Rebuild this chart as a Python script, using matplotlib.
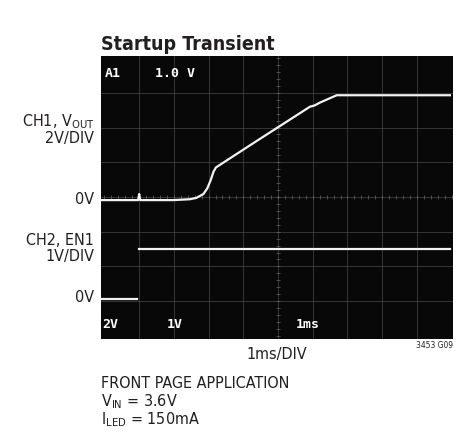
import numpy as np
import matplotlib
matplotlib.use('Agg')
import matplotlib.pyplot as plt

plt.rcParams['font.family'] = ['DejaVu Sans']
plt.rcParams['font.stretch'] = 'condensed'
plt.rcParams['mathtext.default'] = 'regular'

# time in ms (1ms/DIV), CH1 = VOUT in volts (2V/DIV), CH2 = EN1 in volts (1V/DIV)
t_ch1 = [-0.1, 0.97, 1.0, 1.03, 1.98, 2.46, 2.65, 2.85, 2.96, 3.06, 3.14, 3.21,
         4.38, 5.92, 6.05, 6.21, 6.69, 9.95]
v_ch1 = [0.0, 0.0, 0.35, 0.0, 0.0, 0.05, 0.13, 0.35, 0.67, 1.15, 1.63, 1.88,
         3.40, 5.38, 5.45, 5.62, 6.04, 6.04]
t_ch2 = [-0.1, 0.95, np.nan, 1.0, 9.95]
v_ch2 = [0.0, 0.0, np.nan, 1.42, 1.42]

ch1_scale, ch1_zero = 2.0, -0.09
ch2_scale, ch2_zero = 1.0, -2.93

fig = plt.figure(figsize=(4.64, 4.43), dpi=100)
W, H = 464, 443
ax = fig.add_axes([101 / W, 1 - 339 / H, 352 / W, 283 / H])
ax.set_facecolor('#080808')
ax.set_xlim(-0.1, 10.04)
ax.set_ylim(-4.09, 4.06)

# graticule
for gx in range(1, 10):
    ax.axvline(gx, color='#5a5a5a', lw=0.7, alpha=0.55, zorder=1)
for gy in range(-3, 4):
    ax.axhline(gy, color='#5a5a5a', lw=0.7, alpha=0.55, zorder=1)
minor = np.arange(0, 10.01, 0.2)
ax.plot(minor, np.zeros_like(minor), '|', color='#666666', ms=3, mew=0.5, zorder=1)
minor_y = np.arange(-4, 4.01, 0.2)
ax.plot(np.full_like(minor_y, 5.0), minor_y, '_', color='#666666', ms=3, mew=0.5, zorder=1)

ax.plot(t_ch1, ch1_zero + np.array(v_ch1) / ch1_scale, color='#f2f2f2', lw=1.6, zorder=3)
ax.plot(t_ch2, ch2_zero + np.array(v_ch2) / ch2_scale, color='#f2f2f2', lw=1.6, zorder=3)

sfont = dict(color='white', family='DejaVu Sans Mono', fontweight='bold', fontsize=9.5,
             va='center', ha='left', zorder=4)
ax.text(0.0, 3.57, 'A1', **sfont)
ax.text(1.45, 3.57, '1.0 V', **sfont)
ax.text(-0.05, -3.66, '2V', **sfont)
ax.text(1.8, -3.66, '1V', **sfont)
ax.text(5.5, -3.66, '1ms', **sfont)

ax.set_xticks([])
ax.set_yticks([])
for s in ax.spines.values():
    s.set_visible(False)

def fy(y):
    return 1 - y / H

fig.text(101 / W, fy(45), 'Startup Transient', fontsize=14, fontweight='bold',
         color='#231f20', va='center', ha='left')

lab = dict(fontsize=11.5, color='#231f20', ha='right', va='center')
fig.text(94 / W, fy(122), 'CH1, V$_{OUT}$', **lab)
fig.text(94 / W, fy(139), '2V/DIV', **lab)
fig.text(94 / W, fy(200), '0V', **lab)
fig.text(94 / W, fy(240), 'CH2, EN1', **lab)
fig.text(94 / W, fy(257), '1V/DIV', **lab)
fig.text(94 / W, fy(297), '0V', **lab)

fig.text(277 / W, fy(355), '1ms/DIV', fontsize=11.5, color='#231f20', ha='center', va='center')
fig.text(453 / W, fy(346), '3453 G09', fontsize=6, color='#231f20', ha='right', va='center')

foot = dict(fontsize=11.5, color='#231f20', ha='left', va='baseline')
fig.text(101 / W, fy(388), 'FRONT PAGE APPLICATION', **foot)
fig.text(101 / W, fy(406), 'V$_{IN}$ = 3.6V', **foot)
fig.text(101 / W, fy(424), 'I$_{LED}$ = 150mA', **foot)

fig.savefig('out.png', dpi=100, facecolor='white')
